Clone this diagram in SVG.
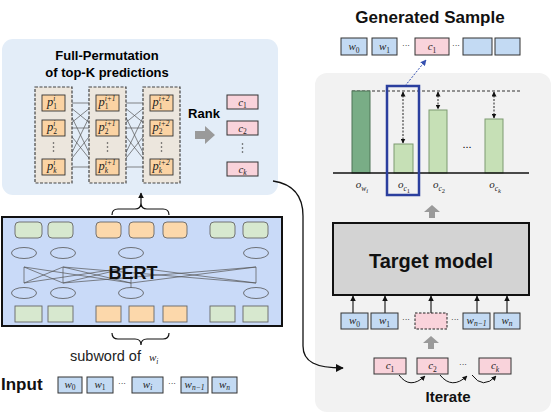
<svg xmlns="http://www.w3.org/2000/svg" width="552" height="414" viewBox="0 0 552 414">
<defs>
<style>
.sans{font-family:"Liberation Sans",Arial,sans-serif}
.b{font-family:"Liberation Sans",Arial,sans-serif;font-weight:bold}
.m{font-family:"Liberation Serif","Times New Roman",serif;font-style:italic;font-size:11px;fill:#222}
.pl{font-size:12.5px}
.sub{font-size:7.5px}
.nm{font-style:normal}
.col{fill:#ece6dd;stroke:#444;stroke-width:1.2;stroke-dasharray:3 1.5}
.p{fill:#fbd3a3;stroke:#333;stroke-width:0.9}
.c{fill:#f9d3db;stroke:#333;stroke-width:1}
.w{fill:#c3daf3;stroke:#333;stroke-width:1}
.g{fill:#d7e8cf;stroke:#666;stroke-width:0.9}
.o{fill:#fcd8ab;stroke:#666;stroke-width:0.9}
.el{fill:none;stroke:#555;stroke-width:0.8}
.ln{stroke:#555;stroke-width:0.7;fill:none}
.dot{fill:#444}
.ga{fill:#9a9a9a}
.bar{fill:#c6e0b6;stroke:#7d9a70;stroke-width:1}
.da{stroke:#222;stroke-width:1;stroke-dasharray:2 1.5;fill:none}
</style>
<marker id="ah" viewBox="0 0 10 10" refX="9" refY="5" markerWidth="6" markerHeight="6" orient="auto-start-reverse">
<path d="M0,0 L10,5 L0,10 Z" fill="#111"/>
</marker>
<marker id="ahs" viewBox="0 0 10 10" refX="9" refY="5" markerWidth="5" markerHeight="5" orient="auto-start-reverse">
<path d="M0,0 L10,5 L0,10 Z" fill="#111"/>
</marker>
<marker id="ahb" viewBox="0 0 10 10" refX="9" refY="5" markerWidth="6" markerHeight="6" orient="auto">
<path d="M0,0 L10,5 L0,10 Z" fill="#3550b0"/>
</marker>
</defs>

<!-- panels -->
<g id="perm-panel">
<rect x="2" y="39" width="276" height="156" rx="11" fill="#e3edf8"/>
<text class="b" x="107" y="60" font-size="13" text-anchor="middle">Full-Permutation</text>
<text class="b" x="107" y="77" font-size="13" text-anchor="middle">of top-K predictions</text>
</g>
<g id="right-panel">
<rect x="315" y="73" width="236" height="339" rx="12" fill="#f2f2f2"/>
</g>

<!-- connectors -->
<g id="connectors">
<path class="ln" d="M65,103 L96,103 M65,103 L96,128 M65,103 L96,167 M65,128 L96,103 M65,128 L96,128 M65,128 L96,167 M65,167 L96,103 M65,167 L96,128 M65,167 L96,167"/>
<path class="ln" d="M119,103 L150,103 M119,103 L150,128 M119,103 L150,167 M119,128 L150,103 M119,128 L150,128 M119,128 L150,167 M119,167 L150,103 M119,167 L150,128 M119,167 L150,167"/>
<polygon class="ga" points="195,131 205,131 205,126 215,135 205,144 205,139 195,139"/>
<path d="M273,181 C293,184 303,196 303,216 L303,346 C303,362 316,368 343,368" fill="none" stroke="#111" stroke-width="1.3" marker-end="url(#ah)"/>
<path d="M112,215 Q112,209 118,209 L135,209 Q141,209 141,203 Q141,209 147,209 L163,209 Q169,209 169,215" fill="none" stroke="#111" stroke-width="1.2"/>
<line x1="141" y1="203" x2="141" y2="193" stroke="#111" stroke-width="1.2" marker-end="url(#ahs)"/>
<path d="M112,333 Q112,339 118,339 L135,339 Q141,339 141,345 Q141,339 147,339 L163,339 Q169,339 169,333" fill="none" stroke="#111" stroke-width="1.2"/>
<line x1="405" y1="86" x2="426" y2="60" stroke="#3550b0" stroke-width="1" stroke-dasharray="2 1.5" marker-end="url(#ahb)"/>
<polygon class="ga" points="432,205 440,212 435,212 435,218 429,218 429,212 424,212"/>
<polygon class="ga" points="431,336 439,343 434,343 434,349 428,349 428,343 423,343"/>
<g stroke="#111" stroke-width="1.1">
<line x1="353" y1="313" x2="353" y2="296" marker-end="url(#ahs)"/>
<line x1="385" y1="313" x2="385" y2="296" marker-end="url(#ahs)"/>
<line x1="431" y1="313" x2="431" y2="296" marker-end="url(#ahs)"/>
<line x1="477" y1="313" x2="477" y2="296" marker-end="url(#ahs)"/>
<line x1="507" y1="313" x2="507" y2="296" marker-end="url(#ahs)"/>
</g>
<g fill="none" stroke="#111" stroke-width="1">
<path d="M399,375 Q410,390 425,376" marker-end="url(#ahs)"/>
<path d="M440,375 Q452,390 467,376" marker-end="url(#ahs)"/>
<path d="M472,375 Q483,390 496,376" marker-end="url(#ahs)"/>
</g>
<line class="da" x1="403" y1="92" x2="403" y2="143" marker-start="url(#ahs)" marker-end="url(#ahs)"/>
<line class="da" x1="438" y1="92" x2="438" y2="109" marker-start="url(#ahs)" marker-end="url(#ahs)"/>
<line class="da" x1="494" y1="92" x2="494" y2="118" marker-start="url(#ahs)" marker-end="url(#ahs)"/>
</g>

<!-- permutation columns -->
<g id="col-i">
<rect class="col" x="35" y="87" width="37" height="96"/>
<rect class="p" x="42" y="95" width="23" height="16"/>
<rect class="p" x="42" y="120" width="23" height="16"/>
<rect class="p" x="42" y="159" width="23" height="16"/>
<text class="m pl" x="47" y="106">p<tspan class="sub nm" dy="3">1</tspan><tspan class="sub" dx="-3.8" dy="-8.5">i</tspan></text>
<text class="m pl" x="47" y="131">p<tspan class="sub nm" dy="3">2</tspan><tspan class="sub" dx="-3.8" dy="-8.5">i</tspan></text>
<text class="m pl" x="47" y="170">p<tspan class="sub" dy="3">k</tspan><tspan class="sub" dx="-3.3" dy="-8.5">i</tspan></text>
<circle class="dot" cx="53.5" cy="143" r="0.8"/><circle class="dot" cx="53.5" cy="147" r="0.8"/><circle class="dot" cx="53.5" cy="151" r="0.8"/>
</g>
<g id="col-i1">
<rect class="col" x="89" y="87" width="37" height="96"/>
<rect class="p" x="96" y="95" width="23" height="16"/>
<rect class="p" x="96" y="120" width="23" height="16"/>
<rect class="p" x="96" y="159" width="23" height="16"/>
<text class="m pl" x="98.5" y="106">p<tspan class="sub nm" dy="3">1</tspan><tspan class="sub" dx="-3.8" dy="-8.5">i+1</tspan></text>
<text class="m pl" x="98.5" y="131">p<tspan class="sub nm" dy="3">2</tspan><tspan class="sub" dx="-3.8" dy="-8.5">i+1</tspan></text>
<text class="m pl" x="98.5" y="170">p<tspan class="sub" dy="3">k</tspan><tspan class="sub" dx="-3.3" dy="-8.5">i+1</tspan></text>
<circle class="dot" cx="107.5" cy="143" r="0.8"/><circle class="dot" cx="107.5" cy="147" r="0.8"/><circle class="dot" cx="107.5" cy="151" r="0.8"/>
</g>
<g id="col-i2">
<rect class="col" x="143" y="87" width="37" height="96"/>
<rect class="p" x="150" y="95" width="23" height="16"/>
<rect class="p" x="150" y="120" width="23" height="16"/>
<rect class="p" x="150" y="159" width="23" height="16"/>
<text class="m pl" x="152.5" y="106">p<tspan class="sub nm" dy="3">1</tspan><tspan class="sub" dx="-3.8" dy="-8.5">i+2</tspan></text>
<text class="m pl" x="152.5" y="131">p<tspan class="sub nm" dy="3">2</tspan><tspan class="sub" dx="-3.8" dy="-8.5">i+2</tspan></text>
<text class="m pl" x="152.5" y="170">p<tspan class="sub" dy="3">k</tspan><tspan class="sub" dx="-3.3" dy="-8.5">i+2</tspan></text>
<circle class="dot" cx="161.5" cy="143" r="0.8"/><circle class="dot" cx="161.5" cy="147" r="0.8"/><circle class="dot" cx="161.5" cy="151" r="0.8"/>
</g>

<g id="rank">
<text class="b" x="204" y="118" font-size="13" text-anchor="middle">Rank</text>
</g>
<g id="ranked">
<rect class="c" x="227" y="95" width="31" height="14"/>
<rect class="c" x="227" y="121" width="31" height="14"/>
<rect class="c" x="227" y="162" width="31" height="14"/>
<text class="m" x="242.5" y="105.5" font-size="12" text-anchor="middle">c<tspan class="sub nm" dy="2.5">1</tspan></text>
<text class="m" x="242.5" y="131.5" font-size="12" text-anchor="middle">c<tspan class="sub nm" dy="2.5">2</tspan></text>
<text class="m" x="242.5" y="172.5" font-size="12" text-anchor="middle">c<tspan class="sub" dy="2.5">k</tspan></text>
<circle class="dot" cx="242.5" cy="144" r="0.8"/><circle class="dot" cx="242.5" cy="148" r="0.8"/><circle class="dot" cx="242.5" cy="152" r="0.8"/>
</g>

<!-- BERT -->
<g id="bert">
<rect x="2" y="217" width="280" height="109" fill="#c9daf8" stroke="#111" stroke-width="2"/>
<rect class="g" x="15" y="222" width="27" height="16" rx="4"/>
<rect class="g" x="48" y="222" width="25" height="16" rx="4"/>
<rect class="o" x="96" y="222" width="25" height="16" rx="4"/>
<rect class="o" x="129" y="222" width="25" height="16" rx="4"/>
<rect class="o" x="163" y="222" width="24" height="16" rx="4"/>
<rect class="g" x="210" y="222" width="25" height="16" rx="4"/>
<rect class="g" x="243" y="222" width="25" height="16" rx="4"/>
<ellipse class="el" cx="24" cy="253" rx="12.5" ry="5.5"/>
<ellipse class="el" cx="63" cy="253" rx="12.5" ry="5.5"/>
<ellipse class="el" cx="131" cy="253" rx="12.5" ry="5.5"/>
<ellipse class="el" cx="256" cy="253" rx="12.5" ry="5.5"/>
<path class="ln" d="M24,267 L24,283 M63,267 L63,283 M256,267 L256,283 M131,276 L131,288
M24,267 L63,283 M24,283 L63,267 M63,267 L131,283 M63,283 L131,267 M24,267 L131,283 M24,283 L131,267
M131,267 L256,283 M131,283 L256,267 M63,267 L256,283 M63,283 L256,267"/>
<ellipse class="el" cx="24" cy="293" rx="12.5" ry="5.5"/>
<ellipse class="el" cx="63" cy="293" rx="12.5" ry="5.5"/>
<ellipse class="el" cx="131" cy="293" rx="12.5" ry="5.5"/>
<ellipse class="el" cx="256" cy="293" rx="12.5" ry="5.5"/>
<rect class="g" x="15" y="306" width="27" height="16"/>
<rect class="g" x="48" y="306" width="25" height="16"/>
<rect class="o" x="96" y="306" width="25" height="16"/>
<rect class="o" x="129" y="306" width="25" height="16"/>
<rect class="o" x="163" y="306" width="24" height="16"/>
<rect class="g" x="210" y="306" width="25" height="16"/>
<rect class="g" x="243" y="306" width="25" height="16"/>
<text class="b" x="133" y="279" font-size="18" text-anchor="middle" fill="#111">BERT</text>
</g>

<g id="subword">
<text class="sans" x="70" y="361" font-size="14.5" fill="#222">subword of <tspan class="m" font-size="16" dx="4">w<tspan class="sub" font-size="9" dy="3">i</tspan></tspan></text>
</g>

<g id="input">
<text class="b" x="1" y="390" font-size="17" fill="#111">Input</text>
<rect class="w" x="58" y="377" width="24" height="16"/>
<rect class="w" x="87" y="377" width="26" height="16"/>
<rect class="w" x="132" y="377" width="31" height="16"/>
<rect class="w" x="181" y="377" width="27" height="16"/>
<rect class="w" x="212" y="377" width="25" height="16"/>
<text class="m" x="70" y="388" font-size="9.5" text-anchor="middle">w<tspan class="sub nm" font-size="6.5" dy="2">0</tspan></text>
<text class="m" x="100" y="388" font-size="9.5" text-anchor="middle">w<tspan class="sub nm" font-size="6.5" dy="2">1</tspan></text>
<text class="m" x="147.5" y="388" font-size="9.5" text-anchor="middle">w<tspan class="sub" font-size="6.5" dy="2">i</tspan></text>
<text class="m" x="194.5" y="388" font-size="9.5" text-anchor="middle">w<tspan class="sub" font-size="6.5" dy="2">n−1</tspan></text>
<text class="m" x="224.5" y="388" font-size="9.5" text-anchor="middle">w<tspan class="sub" font-size="6.5" dy="2">n</tspan></text>
<text class="sans" x="122" y="386" font-size="8" text-anchor="middle">···</text>
<text class="sans" x="172" y="386" font-size="8" text-anchor="middle">···</text>
</g>

<!-- Generated sample -->
<g id="generated">
<text class="b" x="430" y="23" font-size="17" text-anchor="middle" fill="#111">Generated Sample</text>
<rect class="w" x="341" y="38" width="26" height="17"/>
<rect class="w" x="372" y="38" width="25" height="17"/>
<rect class="c" x="415" y="38" width="34" height="17"/>
<rect class="w" x="463" y="38" width="29" height="17"/>
<rect class="w" x="495" y="38" width="25" height="17"/>
<text class="m" x="354" y="50" text-anchor="middle">w<tspan class="sub nm" dy="2.5">0</tspan></text>
<text class="m" x="384.5" y="50" text-anchor="middle">w<tspan class="sub nm" dy="2.5">1</tspan></text>
<text class="m" x="432" y="50" font-size="12.5" text-anchor="middle">c<tspan class="sub nm" font-size="8" dy="2.5">1</tspan></text>
<text class="sans" x="406" y="48" font-size="8" text-anchor="middle">···</text>
<text class="sans" x="456" y="48" font-size="8" text-anchor="middle">···</text>
</g>

<!-- bar chart -->
<g id="chart">
<line x1="352" y1="91" x2="521" y2="91" stroke="#333" stroke-width="1" stroke-dasharray="3 2"/>
<rect x="352" y="91" width="18" height="82" fill="#79ad86" stroke="#4f7456" stroke-width="1"/>
<rect class="bar" x="394" y="144" width="19" height="29"/>
<rect class="bar" x="429" y="110" width="18" height="63"/>
<rect class="bar" x="485" y="119" width="18" height="54"/>
<line x1="333" y1="173" x2="529" y2="173" stroke="#111" stroke-width="1.5"/>
<text class="sans" x="467" y="148" font-size="11" text-anchor="middle">...</text>
<text class="m" x="362" y="188" font-size="13.5" text-anchor="middle">o<tspan class="sub" font-size="9" dy="2.5">w<tspan font-size="6.5" dy="2">i</tspan></tspan></text>
<text class="m" x="404" y="188" font-size="13.5" text-anchor="middle">o<tspan class="sub" font-size="9" dy="2.5">c<tspan class="nm" font-size="6.5" dy="2">1</tspan></tspan></text>
<text class="m" x="439" y="188" font-size="13.5" text-anchor="middle">o<tspan class="sub" font-size="9" dy="2.5">c<tspan class="nm" font-size="6.5" dy="2">2</tspan></tspan></text>
<text class="m" x="495" y="188" font-size="13.5" text-anchor="middle">o<tspan class="sub" font-size="9" dy="2.5">c<tspan font-size="6.5" dy="2">k</tspan></tspan></text>
<rect x="387" y="86" width="32" height="109" fill="none" stroke="#2b3f9e" stroke-width="2.5"/>
</g>

<!-- Target model -->
<g id="target">
<rect x="333" y="223" width="196" height="72" fill="#d3d3d3" stroke="#111" stroke-width="2"/>
<text class="b" x="431" y="268" font-size="20" text-anchor="middle" fill="#111">Target model</text>
</g>

<g id="model-input">
<rect class="w" x="341" y="313" width="27" height="16"/>
<rect class="w" x="371" y="313" width="27" height="16"/>
<rect x="415" y="313" width="32" height="16" fill="#f9d3db" stroke="#222" stroke-width="1" stroke-dasharray="2.5 1.5"/>
<rect class="w" x="463" y="313" width="27" height="16"/>
<rect class="w" x="494" y="313" width="26" height="16"/>
<text class="m" x="354.5" y="324" font-size="10.5" text-anchor="middle">w<tspan class="sub nm" dy="2.5">0</tspan></text>
<text class="m" x="384.5" y="324" font-size="10.5" text-anchor="middle">w<tspan class="sub nm" dy="2.5">1</tspan></text>
<text class="m" x="476.5" y="324" font-size="9.5" text-anchor="middle">w<tspan class="sub" font-size="7" dy="2">n−1</tspan></text>
<text class="m" x="507" y="324" font-size="9.5" text-anchor="middle">w<tspan class="sub" font-size="7" dy="2">n</tspan></text>
<text class="sans" x="406" y="322" font-size="8" text-anchor="middle">···</text>
<text class="sans" x="455" y="322" font-size="8" text-anchor="middle">···</text>
</g>

<g id="candidates">
<rect class="c" x="374" y="358" width="32" height="16"/>
<rect class="c" x="417" y="358" width="31" height="16"/>
<rect class="c" x="479" y="358" width="32" height="16"/>
<text class="m" x="390" y="369" font-size="12.5" text-anchor="middle">c<tspan class="sub nm" font-size="8" dy="2.5">1</tspan></text>
<text class="m" x="432.5" y="369" font-size="12.5" text-anchor="middle">c<tspan class="sub nm" font-size="8" dy="2.5">2</tspan></text>
<text class="m" x="495" y="369" font-size="12.5" text-anchor="middle">c<tspan class="sub" font-size="8" dy="2.5">k</tspan></text>
<text class="sans" x="463" y="367" font-size="8" text-anchor="middle">···</text>
<text class="b" x="448" y="402" font-size="15" text-anchor="middle" fill="#111">Iterate</text>
</g>
</svg>
